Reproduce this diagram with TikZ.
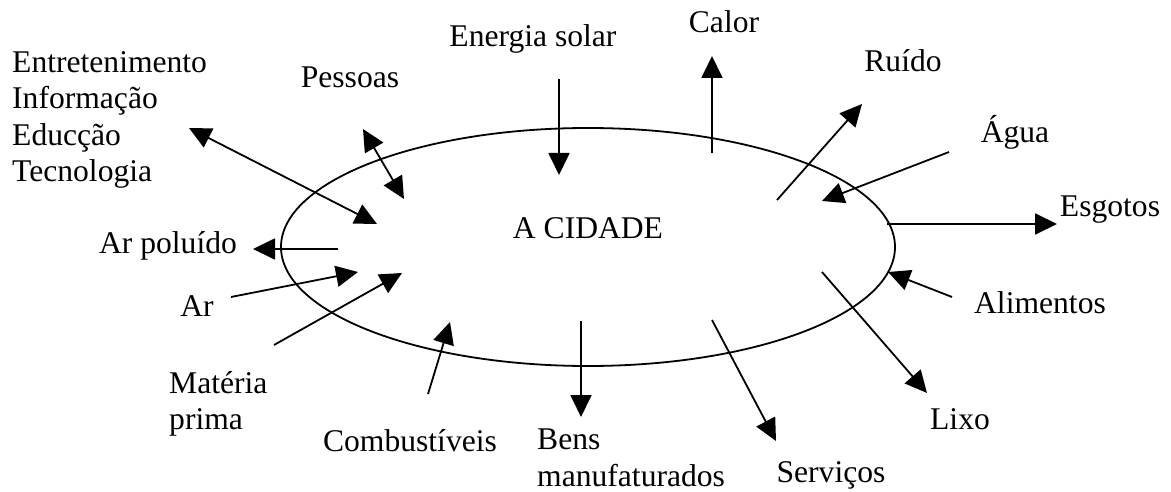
\documentclass[tikz,border=0pt]{standalone}
\usepackage{fontspec}
\setmainfont{Liberation Serif}
\usetikzlibrary{arrows.meta,shapes.geometric}
\begin{document}
\begin{tikzpicture}[x=1pt,y=-1pt,
  lbl/.style={inner sep=0pt,anchor=base,font=\fontsize{31.6}{36.6}\selectfont},
  mlbl/.style={inner sep=0pt,anchor=north west,align=left,font=\fontsize{31.6}{36.6}\selectfont},
  flow/.style={line width=1.8pt,-{Triangle[length=22pt,width=21pt]}},
  both/.style={line width=1.8pt,{Triangle[length=22pt,width=21pt]}-{Triangle[length=22pt,width=21pt]}}]
\useasboundingbox (0,0) rectangle (1171,492);
% city
\node[draw,ellipse,line width=1.8pt,minimum width=614pt,minimum height=238pt,inner sep=0pt] (city) at (588,247) {};
\node[lbl] (cidade) at (588,238) {A CIDADE};
% labels
\node[mlbl] (ent) at (12,51) {Entretenimento\\Informação\\Educção\\Tecnologia};
\node[lbl] (pes) at (350,88) {Pessoas};
\node[lbl] (sol) at (533,47) {Energia solar};
\node[lbl] (cal) at (724,33) {Calor};
\node[lbl] (rui) at (903,72) {Ruído};
\node[lbl] (agu) at (1015,143) {Água};
\node[lbl] (esg) at (1110,217) {Esgotos};
\node[lbl] (ali) at (1040,313) {Alimentos};
\node[lbl] (lix) at (960,429) {Lixo};
\node[lbl] (ser) at (831,482) {Serviços};
\node[mlbl] (ben) at (537,429) {Bens\\manufaturados};
\node[lbl] (com) at (410,451) {Combustíveis};
\node[mlbl] (mat) at (169,371) {Matéria\\prima};
\node[lbl] (ar) at (197,316) {Ar};
\node[lbl] (arp) at (168,253) {Ar poluído};
% arrow ends
\coordinate (e1) at (189,128); \coordinate (e2) at (377,224);
\coordinate (p1) at (363,129); \coordinate (p2) at (404,199);
\coordinate (s1) at (559,79);  \coordinate (s2) at (559,175);
\coordinate (c1) at (712,153); \coordinate (c2) at (712,56);
\coordinate (r1) at (777,200); \coordinate (r2) at (862,104);
\coordinate (a1) at (949,152); \coordinate (a2) at (822,201);
\coordinate (g1) at (887,224); \coordinate (g2) at (1057,224);
\coordinate (l1) at (952,297); \coordinate (l2) at (888,272);
\coordinate (x1) at (822,272); \coordinate (x2) at (927,393);
\coordinate (v1) at (712,320); \coordinate (v2) at (776,441);
\coordinate (b1) at (581,321); \coordinate (b2) at (581,417);
\coordinate (f1) at (428,394); \coordinate (f2) at (450,322);
\coordinate (m1) at (274,345); \coordinate (m2) at (402,273);
\coordinate (q1) at (231,297); \coordinate (q2) at (358,272);
\coordinate (o1) at (338,249); \coordinate (o2) at (253,249);
% arrows
\draw[both] (e1) -- (e2);
\draw[both] (p1) -- (p2);
\draw[flow] (s1) -- (s2);
\draw[flow] (c1) -- (c2);
\draw[flow] (r1) -- (r2);
\draw[flow] (a1) -- (a2);
\draw[flow] (g1) -- (g2);
\draw[flow] (l1) -- (l2);
\draw[flow] (x1) -- (x2);
\draw[flow] (v1) -- (v2);
\draw[flow] (b1) -- (b2);
\draw[flow] (f1) -- (f2);
\draw[flow] (m1) -- (m2);
\draw[flow] (q1) -- (q2);
\draw[flow] (o1) -- (o2);
\end{tikzpicture}
\end{document}
